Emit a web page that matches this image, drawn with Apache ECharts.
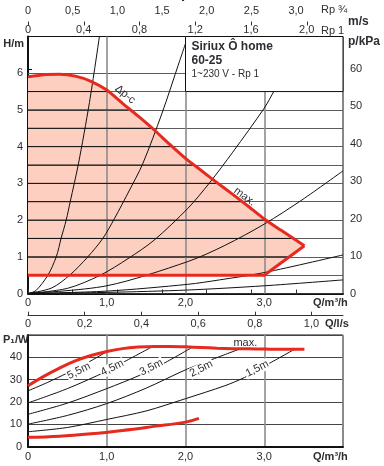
<!DOCTYPE html>
<html><head><meta charset="utf-8">
<script src="https://cdn.jsdelivr.net/npm/echarts@6/dist/echarts.min.js"></script>
<style>html,body{margin:0;padding:0;background:#fff}#c{width:384px;height:466px}</style>
</head><body><div id="c"></div>
<script>
// ---------------- DATA ----------------
// tick labels
const qTicks = [0, 1, 2, 3];
const hTicks = [0, 1, 2, 3, 4, 5, 6];
const kpaTicks = [0, 10, 20, 30, 40, 50, 60];
const vRp34Ticks = [0, 0.5, 1.0, 1.5, 2.0, 2.5, 3.0];
const vRp1Ticks = [0, 0.4, 0.8, 1.2, 1.6, 2.0];
const qlsTicks = [0, 0.2, 0.4, 0.6, 0.8, 1.0];
const powerTicks = [0, 10, 20, 30, 40];
const headGridLines = [0.5, 1, 1.5, 2, 2.5, 3, 3.5, 4, 4.5, 5, 5.5, 6];
const flowGridLines = [1, 2, 3];

// head curve: max (Q m3/h, H m)
const maxHeadQ = [0, 0.2, 0.4, 0.6, 0.8, 1.0, 1.2, 1.4, 1.6, 1.8, 2.0, 2.2, 2.4, 2.6, 2.8, 3.0, 3.2, 3.4, 3.51];
const maxHeadH = [5.90, 5.96, 5.97, 5.92, 5.78, 5.54, 5.18, 4.83, 4.46, 4.06, 3.68, 3.35, 3.02, 2.70, 2.37, 2.03, 1.74, 1.46, 1.30];
// lower limit of the field
const minHeadQ = [3.0, 0];
const minHeadH = [0.5, 0.5];

// Δp-c control lines (head level, end flow)
const dpcHead = [1.0, 1.5, 2.0, 2.5, 3.0, 3.5, 4.0, 4.5, 5.0, 5.5];
const dpcEndQ = [3.34, 3.38, 3.03, 2.73, 2.39, 2.09, 1.86, 1.58, 1.27, 1.03];

// system curves (Q, H)
const sysA_Q = [0, 0.10, 0.253, 0.359, 0.42, 0.485, 0.536, 0.64, 0.78, 0.907];
const sysA_H = [0, 0.08, 0.5, 1.0, 1.5, 2.0, 2.5, 3.53, 5.2, 7.0];
const sysB_Q = [0, 0.30, 0.53, 0.76, 0.95, 1.10, 1.29, 1.456, 1.70, 1.92, 2.03];
const sysB_H = [0, 0.15, 0.5, 1.0, 1.5, 2.05, 2.82, 3.53, 4.9, 6.3, 7.0];
const sysC_Q = [0, 0.5, 0.92, 1.27, 1.6, 2.03, 2.3, 2.6, 3.0, 3.13, 3.5];
const sysC_H = [0, 0.14, 0.5, 0.95, 1.45, 2.32, 3.0, 3.85, 5.05, 5.54, 7.0];
const sysD_Q = [0, 1.0, 2.03, 2.5, 3.0, 3.48, 4.0];
const sysD_H = [0, 0.21, 0.87, 1.31, 1.89, 2.55, 3.34];
const sysE_Q = [0, 1.0, 2.03, 2.43, 3.0, 4.0];
const sysE_H = [0, 0.065, 0.25, 0.37, 0.57, 1.05];
const sysF_Q = [0, 1.0, 2.03, 3.0, 4.0];
const sysF_H = [0, 0.03, 0.095, 0.21, 0.37];

// power curves (Q m3/h, P1 W)
const pMaxQ = [0, 0.2, 0.4, 0.6, 0.8, 1.0, 1.2, 1.4, 1.6, 1.8, 2.0, 2.2, 2.4, 2.6, 2.8, 3.0, 3.2, 3.51];
const pMaxP = [27.3, 31.5, 35.2, 38.4, 40.8, 42.6, 43.9, 44.6, 44.9, 44.9, 44.7, 44.4, 44.1, 43.9, 43.8, 43.7, 43.6, 43.6];
const pMinQ = [0, 0.4, 0.8, 1.2, 1.6, 2.0, 2.17];
const pMinP = [4.2, 4.7, 5.8, 7.3, 9.1, 11.0, 12.7];
const p55Q = [0, 0.25, 0.5, 0.75, 1.0];
const p55P = [25.0, 28.8, 33.0, 37.5, 42.5];
const p45Q = [0, 0.5, 1.0, 1.2, 1.57];
const p45P = [19.6, 26.0, 33.8, 37.6, 44.6];
const p35Q = [0, 0.5, 1.0, 1.42, 1.75, 2.09];
const p35P = [14.5, 19.5, 26.0, 32.0, 37.8, 44.6];
const p25Q = [0, 0.5, 1.0, 1.5, 2.0, 2.35, 2.70];
const p25P = [10.1, 14.0, 19.3, 26.2, 34.4, 39.2, 43.9];
const p15Q = [0, 0.5, 1.0, 1.5, 2.0, 2.5, 2.75, 3.05, 3.38];
const p15P = [6.7, 8.6, 12.2, 16.0, 21.5, 27.3, 31.0, 37.0, 43.5];

// curve labels
const powerLabelText = ['5,5m', '4,5m', '3,5m', '2,5m', '1,5m'];
const powerLabelQ = [0.646, 1.07, 1.566, 2.2, 2.91];
const powerLabelP = [33.9, 35.3, 35.5, 34.9, 34.9];
const maxPowerLabel = {text: 'max.', q: 2.76, p: 46.3};
const headLabelText = ['Δp-c', 'max.'];
const headLabelQ = [1.234, 2.75];
const headLabelH = [5.42, 2.64];

// legend
const titleLines = ['Siriux Ô home', '60-25', '1~230 V - Rp 1'];

// ---------------- CHART ----------------
const FONT = '"Liberation Sans", Arial, sans-serif';
const TXT = '#2d2d33';
const RED = '#e62a1f';
const pairs = (xs, ys) => xs.map((x, i) => [x, ys[i]]);
const fmt = v => (v === 0 ? '0' : v.toFixed(1).replace('.', ','));
const lab = (vals, f, extra) => Object.assign({customValues: vals, formatter: f, color: TXT, fontSize: 11, fontFamily: FONT}, extra || {});

const maxCurve = pairs(maxHeadQ, maxHeadH);
const lowerEdge = [maxCurve[maxCurve.length - 1]].concat(pairs(minHeadQ, minHeadH));
const outline = maxCurve.concat(pairs(minHeadQ, minHeadH));

const chart = echarts.init(document.getElementById('c'));

const series = [];
// shaded operating field
series.push({
  type: 'custom', xAxisIndex: 0, yAxisIndex: 0, z: 1, silent: true,
  data: outline,
  renderItem: (params, api) => {
    if (params.dataIndex !== 0) return null;
    return {type: 'polygon', shape: {points: outline.map(p => api.coord(p))}, style: {fill: '#fccfc0'}};
  }
});
// grid lines of the head chart
series.push({
  type: 'line', xAxisIndex: 0, yAxisIndex: 0, data: [], z: 2, silent: true,
  markLine: {
    silent: true, z: 2, symbol: ['none', 'none'], label: {show: false}, animation: false,
    data: headGridLines.map(h => ({yAxis: h, lineStyle: {color: '#5c5c5c', width: 1, type: 'solid'}}))
      .concat(flowGridLines.map(q => ({xAxis: q, lineStyle: {color: '#8c8c8c', width: 1.6, type: 'solid'}})))
  }
});
// Δp-c lines
dpcHead.forEach((h, i) => {
  series.push({type: 'line', xAxisIndex: 0, yAxisIndex: 0, z: 3, silent: true, symbol: 'none',
    data: [[0, h], [dpcEndQ[i], h]], lineStyle: {color: '#111', width: 1}});
});
// system curves
[[sysA_Q, sysA_H], [sysB_Q, sysB_H], [sysC_Q, sysC_H], [sysD_Q, sysD_H], [sysE_Q, sysE_H], [sysF_Q, sysF_H]].forEach(c => {
  series.push({type: 'line', xAxisIndex: 0, yAxisIndex: 0, z: 4, silent: true, symbol: 'none', smooth: 0.3,
    data: pairs(c[0], c[1]), lineStyle: {color: '#111', width: 1}});
});
// red outline: smooth max curve + straight lower edges
series.push({type: 'line', xAxisIndex: 0, yAxisIndex: 0, z: 6, silent: true, symbol: 'none', smooth: 0.2,
  data: maxCurve, lineStyle: {color: RED, width: 3}});
series.push({type: 'line', xAxisIndex: 0, yAxisIndex: 0, z: 6, silent: true, symbol: 'none', smooth: false,
  data: lowerEdge, lineStyle: {color: RED, width: 3, join: 'miter'}});

// power chart
[[p55Q, p55P], [p45Q, p45P], [p35Q, p35P], [p25Q, p25P], [p15Q, p15P]].forEach(c => {
  series.push({type: 'line', xAxisIndex: 3, yAxisIndex: 2, z: 4, silent: true, symbol: 'none', smooth: 0.3,
    data: pairs(c[0], c[1]), lineStyle: {color: '#111', width: 1}});
});
series.push({type: 'line', xAxisIndex: 3, yAxisIndex: 2, z: 6, silent: true, symbol: 'none', smooth: 0.4,
  data: pairs(pMaxQ, pMaxP), lineStyle: {color: RED, width: 3}});
series.push({type: 'line', xAxisIndex: 3, yAxisIndex: 2, z: 6, silent: true, symbol: 'none', smooth: 0.4,
  data: pairs(pMinQ, pMinP), lineStyle: {color: RED, width: 3}});

chart.setOption({
  animation: false,
  backgroundColor: '#fff',
  grid: [
    {left: 28, right: 41, top: 36.5, height: 257, show: true, borderColor: '#111', borderWidth: 1, backgroundColor: 'transparent', outerBoundsMode: 'none'},
    {left: 28, right: 41, top: 335, height: 111.7, show: true, borderColor: '#111', borderWidth: 1, backgroundColor: 'transparent', outerBoundsMode: 'none'}
  ],
  xAxis: [
    {gridIndex: 0, type: 'value', min: 0, max: 4, interval: 1, position: 'bottom',
      axisLine: {lineStyle: {color: '#111', width: 2}}, axisTick: {show: false},
      axisLabel: lab(qTicks, fmt, {margin: 4}), splitLine: {show: false}},
    {gridIndex: 0, type: 'value', min: 0, max: 3.525, position: 'top', offset: 15,
      axisLine: {lineStyle: {color: '#333', width: 1}},
      axisTick: {customValues: vRp34Ticks, length: 4, lineStyle: {color: '#333'}},
      axisLabel: lab(vRp34Ticks, fmt, {margin: 5}), splitLine: {show: false}},
    {gridIndex: 0, type: 'value', min: 0, max: 2.26, position: 'top', offset: 15,
      axisLine: {show: false},
      axisTick: {customValues: vRp1Ticks, inside: true, length: 4, lineStyle: {color: '#333'}},
      axisLabel: lab(vRp1Ticks, fmt, {inside: true, margin: 3}), splitLine: {show: false}},
    {gridIndex: 1, type: 'value', min: 0, max: 4, interval: 1, position: 'bottom',
      axisLine: {lineStyle: {color: '#111', width: 2}}, axisTick: {show: false},
      axisLabel: lab(qTicks, fmt, {margin: 5}),
      splitLine: {show: true, lineStyle: {color: '#8c8c8c', width: 1.6}}},
    {gridIndex: 1, type: 'value', min: 0, max: 4 / 3.6, position: 'top', offset: 19.3,
      axisLine: {lineStyle: {color: '#333', width: 1}},
      axisTick: {customValues: qlsTicks, length: 4, lineStyle: {color: '#333'}},
      axisLabel: lab(qlsTicks, fmt, {inside: true, margin: 3}), splitLine: {show: false}}
  ],
  yAxis: [
    {gridIndex: 0, type: 'value', min: 0, max: 7, position: 'left',
      axisLine: {show: true, lineStyle: {color: '#111', width: 2}}, axisTick: {show: false},
      axisLabel: lab(hTicks, v => String(v), {margin: 5}), splitLine: {show: false}},
    {gridIndex: 0, type: 'value', min: 0, max: 7 * 9.81, position: 'right',
      axisLine: {show: true, lineStyle: {color: '#111', width: 1}},
      axisTick: {show: true, customValues: kpaTicks, length: 4, lineStyle: {color: '#111'}},
      axisLabel: lab(kpaTicks, v => String(v), {margin: 7}), splitLine: {show: false}},
    {gridIndex: 1, type: 'value', min: 0, max: 50, interval: 10, position: 'left',
      axisLine: {show: true, lineStyle: {color: '#111', width: 2}}, axisTick: {show: false},
      axisLabel: lab(powerTicks, v => String(v), {margin: 6}),
      splitLine: {show: true, lineStyle: {color: '#444', width: 1}}}
  ],
  series: series
});

// ---------------- TEXT / BOX OVERLAY ----------------
const g = [];
const text = (x, y, t, o) => g.push({type: 'text', x: x, y: y, z: 30, rotation: (o && o.rotation) || 0,
  style: {text: t, fill: TXT, font: (o && o.font) || ('11px ' + FONT),
    align: (o && o.align) || 'left', textAlign: (o && o.align) || 'left',
    verticalAlign: 'middle', textVerticalAlign: 'middle',
    backgroundColor: o && o.bg, padding: o && o.bg ? [0, 1] : 0}});
const B = s => 'bold ' + s + 'px ' + FONT;

// legend box (covers field Q 2..4, H 5.5..7)
const b1 = chart.convertToPixel({gridIndex: 0}, [2, 7]);
const b2 = chart.convertToPixel({gridIndex: 0}, [4, 5.5]);
g.push({type: 'rect', z: 20, shape: {x: b1[0], y: b1[1], width: b2[0] - b1[0], height: b2[1] - b1[1]},
  style: {fill: '#fff', stroke: '#111', lineWidth: 1}});
text(b1[0] + 6, b1[1] + 10, titleLines[0], {font: B(12)});
text(b1[0] + 6, b1[1] + 24.5, titleLines[1], {font: B(12)});
text(b1[0] + 6, b1[1] + 37.5, titleLines[2], {font: '10px ' + FONT});

// axis titles
text(183, -2, 'v', {font: B(11), align: 'center'});
text(321, 10, 'Rp ¾', {font: '11px ' + FONT});
text(348, 22, 'm/s', {font: B(12)});
text(321, 31, 'Rp 1', {font: '11px ' + FONT});
text(24, 44, 'H/m', {font: B(11), align: 'right'});
text(348, 42, 'p/kPa', {font: B(12)});
text(313, 303, 'Q/m³/h', {font: B(11)});
text(325, 324, 'Q/l/s', {font: B(11)});
text(313, 457, 'Q/m³/h', {font: B(11)});
text(3, 340, 'P₁/W', {font: B(11)});

// curve labels in head chart
const headRot = [-39, -36];
headLabelText.forEach((t, i) => {
  const p = chart.convertToPixel({gridIndex: 0}, [headLabelQ[i], headLabelH[i]]);
  text(p[0], p[1], t, {align: 'center', rotation: headRot[i] * Math.PI / 180});
});
// curve labels in power chart
powerLabelText.forEach((t, i) => {
  const p = chart.convertToPixel({gridIndex: 1}, [powerLabelQ[i], powerLabelP[i]]);
  text(p[0], p[1], t, {align: 'center', rotation: 27 * Math.PI / 180, bg: '#fff'});
});
const mp = chart.convertToPixel({gridIndex: 1}, [maxPowerLabel.q, maxPowerLabel.p]);
text(mp[0], mp[1], maxPowerLabel.text, {align: 'center'});

chart.setOption({graphic: g});
</script></body></html>
